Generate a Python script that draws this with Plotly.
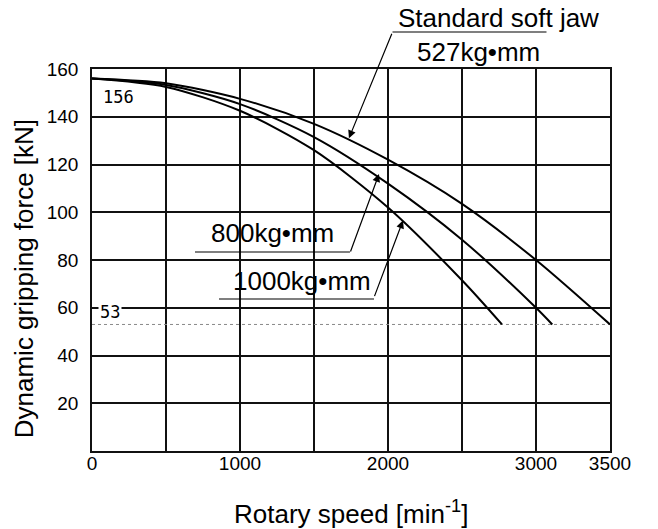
import plotly.graph_objects as go

# ---- data ----
speed_527 = [0, 500, 1000, 1500, 2000, 2500, 3000, 3500]
force_527 = [156, 154, 147.5, 137, 122, 103.5, 80, 53]

speed_800 = [0, 500, 1000, 1500, 2000, 2500, 3000, 3110]
force_800 = [156, 153.3, 145.3, 131.5, 112, 88.5, 60, 53]

speed_1000 = [0, 500, 1000, 1500, 2000, 2500, 2770]
force_1000 = [156, 152.5, 142.5, 126, 102, 71.5, 53]

max_force = 156
min_force = 53
x_ticks = [0, 1000, 2000, 3000, 3500]
y_ticks = [20, 40, 60, 80, 100, 120, 140, 160]

FONT = "Liberation Sans, Arial, sans-serif"
MONO = "DejaVu Sans Mono, monospace"
GRID = "#111111"

fig = go.Figure()

# threshold dotted line
fig.add_trace(go.Scatter(x=[0, 3500], y=[min_force, min_force], mode="lines",
                         line=dict(color="#888888", width=1, dash="dot"),
                         showlegend=False, hoverinfo="skip"))

for xs, ys in [(speed_527, force_527), (speed_800, force_800), (speed_1000, force_1000)]:
    fig.add_trace(go.Scatter(x=xs, y=ys, mode="lines",
                             line=dict(color="black", width=2, shape="spline", smoothing=0.8),
                             showlegend=False, hoverinfo="skip"))

annotations = []
# value labels
annotations.append(dict(x=182, y=148.3, xref="x", yref="y", text=str(max_force), showarrow=False,
                        font=dict(family=MONO, size=17, color="black")))
annotations.append(dict(x=122, y=58.2, xref="x", yref="y", text=str(min_force), showarrow=False,
                        font=dict(family=MONO, size=17, color="black"), bgcolor="white",
                        borderpad=1))

# text labels
for txt, xp, yp in [("Standard soft jaw", 0.7857, 1.1335),
                    ("527kg•mm", 0.7452, 1.0445),
                    ("800kg•mm", 0.3475, 0.5707),
                    ("1000kg•mm", 0.4054, 0.445)]:
    annotations.append(dict(x=xp, y=yp, xref="paper", yref="paper", text=txt, showarrow=False,
                            font=dict(family=FONT, size=26, color="black"),
                            xanchor="center", yanchor="middle"))

# arrows (head on curve, tail at leader elbow)
for hx, hy, ax, ay in [(1736, 131, 43.5, -106), (1939, 116, -29, 79), (2101, 96.5, -29, 77)]:
    annotations.append(dict(x=hx, y=hy, xref="x", yref="y", text="", showarrow=True,
                            ax=ax, ay=ay, arrowhead=2, arrowsize=1.3, arrowwidth=1.2,
                            arrowcolor="black", standoff=0, startstandoff=0))

# axis titles
annotations.append(dict(x=0.5, y=-0.16, xref="paper", yref="paper",
                        text="Rotary speed [min<sup>-1</sup>]", showarrow=False,
                        font=dict(family=FONT, size=26, color="black"),
                        xanchor="center", yanchor="middle"))
annotations.append(dict(x=-0.131, y=0.45, xref="paper", yref="paper",
                        text="Dynamic gripping force [kN]", showarrow=False, textangle=-90,
                        font=dict(family=FONT, size=26, color="black"),
                        xanchor="center", yanchor="middle"))

shapes = []
for x0, x1, yp in [(0.5801, 0.8774, 1.0969), (0.1988, 0.498, 0.5209), (0.2452, 0.5444, 0.3979)]:
    shapes.append(dict(type="line", xref="paper", yref="paper", x0=x0, x1=x1, y0=yp, y1=yp,
                       line=dict(color="black", width=1.2)))

# page body adds an 8px margin, so the figure is 8px smaller
fig.update_layout(
    width=650, height=521,
    margin=dict(l=84, r=48, t=61, b=78),
    paper_bgcolor="white", plot_bgcolor="white",
    font=dict(family=FONT, color="black"),
    annotations=annotations, shapes=shapes,
)
fig.update_xaxes(range=[0, 3500], tickvals=x_ticks, ticktext=[str(v) for v in x_ticks],
                 tickfont=dict(size=19, family=FONT), showgrid=True, gridcolor=GRID,
                 gridwidth=1.5, showline=True, linecolor=GRID,
                 linewidth=1.5, mirror=True, ticks="", zeroline=False,
                 minor=dict(showgrid=True, gridcolor=GRID, gridwidth=1.5,
                            tickvals=[500, 1500, 2500]),
                 ticklabelstandoff=-6)
fig.update_yaxes(range=[0, 160], tickvals=y_ticks, tickfont=dict(size=19, family=FONT),
                 showgrid=True, gridcolor=GRID, gridwidth=1.5, showline=True,
                 linecolor=GRID, linewidth=1.5, mirror=True, ticks="", zeroline=False,
                 ticklabelstandoff=8)

fig.write_html("out.html")
